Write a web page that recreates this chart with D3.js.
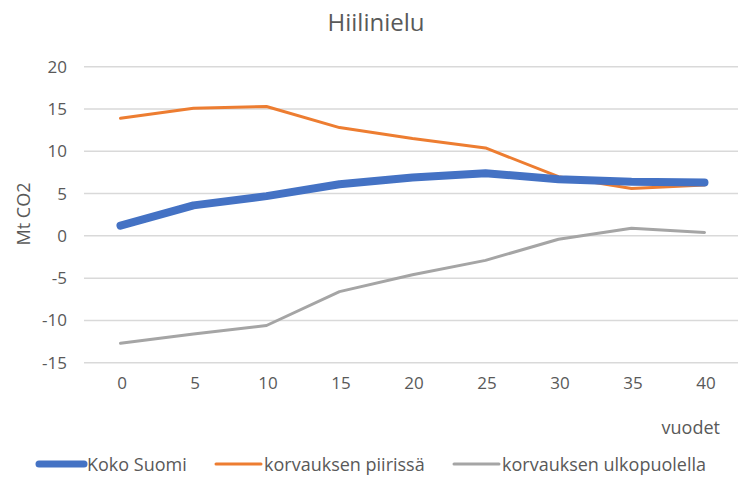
<!DOCTYPE html>
<html>
<head>
<meta charset="utf-8">
<script src="https://cdn.jsdelivr.net/npm/d3@7"></script>
<style>
  body { margin: 0; background: #fff; }
  svg text { font-family: 'Open Sans', sans-serif; fill: #595959; }
</style>
</head>
<body>
<div id="chart"></div>
<script>
const years = [0, 5, 10, 15, 20, 25, 30, 35, 40];
const kokoSuomi = [1.2, 3.6, 4.7, 6.1, 6.9, 7.4, 6.7, 6.4, 6.3];
const piirissa = [13.9, 15.1, 15.3, 12.8, 11.5, 10.4, 7.0, 5.6, 6.0];
const ulkopuolella = [-12.7, -11.6, -10.6, -6.6, -4.6, -2.9, -0.4, 0.9, 0.4];
const yTicks = [-15, -10, -5, 0, 5, 10, 15, 20];
const seriesNames = ['Koko Suomi', 'korvauksen piirissä', 'korvauksen ulkopuolella'];

const series = [
  { name: seriesNames[0], values: kokoSuomi, color: '#4472c4', width: 8 },
  { name: seriesNames[1], values: piirissa, color: '#ed7d31', width: 3 },
  { name: seriesNames[2], values: ulkopuolella, color: '#a5a5a5', width: 3 }
];

const W = 738, H = 478;
const svg = d3.select('#chart').append('svg')
  .attr('width', W).attr('height', H);

const x = d3.scalePoint().domain(years).range([84, 741]).padding(0.5);
const y = d3.scaleLinear().domain([-15, 20]).range([362.7, 66.7]);

// title
svg.append('text')
  .attr('x', 376).attr('y', 31)
  .attr('text-anchor', 'middle')
  .style('font-size', '24px')
  .text('Hiilinielu');

// gridlines
svg.append('g').selectAll('line')
  .data(yTicks)
  .enter().append('line')
  .attr('x1', 84).attr('x2', 741)
  .attr('y1', d => y(d)).attr('y2', d => y(d))
  .attr('stroke', '#d9d9d9')
  .attr('stroke-width', 1.5);

// y axis (plain hyphen minus like the original)
const yAxis = svg.append('g')
  .attr('transform', 'translate(84,0)')
  .call(d3.axisLeft(y).tickValues(yTicks).tickFormat(d => String(d)).tickSize(0).tickPadding(17));
yAxis.select('.domain').remove();
yAxis.selectAll('text').style('font-size', '17px').attr('fill', '#595959');

// x axis
const xAxis = svg.append('g')
  .attr('transform', 'translate(1,377)')
  .call(d3.axisBottom(x).tickSize(0).tickPadding(0));
xAxis.select('.domain').remove();
xAxis.selectAll('text').style('font-size', '17px').attr('fill', '#595959');

// axis titles
svg.append('text')
  .attr('transform', 'translate(30,214) rotate(-90)')
  .attr('text-anchor', 'middle')
  .style('font-size', '18px')
  .text('Mt CO2');

svg.append('text')
  .attr('x', 720).attr('y', 434)
  .attr('text-anchor', 'end')
  .style('font-size', '18px')
  .text('vuodet');

// lines
const line = d3.line()
  .x((d, i) => x(years[i]))
  .y(d => y(d));

svg.append('g').selectAll('path')
  .data(series.slice().reverse())
  .enter().append('path')
  .attr('d', d => line(d.values))
  .attr('fill', 'none')
  .attr('stroke', d => d.color)
  .attr('stroke-width', d => d.width)
  .attr('stroke-linejoin', 'round')
  .attr('stroke-linecap', 'round');

// legend
const legendX = [39, 216, 454];
const leg = svg.append('g').selectAll('g')
  .data(series)
  .enter().append('g')
  .attr('transform', (d, i) => `translate(${legendX[i]},464)`);

leg.append('line')
  .attr('x1', 0).attr('x2', 45)
  .attr('stroke', d => d.color)
  .attr('stroke-width', d => Math.min(d.width, 7))
  .attr('stroke-linecap', 'round');

leg.append('text')
  .attr('x', 48).attr('y', 6.5)
  .style('font-size', '18px')
  .text(d => d.name);
</script>
</body>
</html>
